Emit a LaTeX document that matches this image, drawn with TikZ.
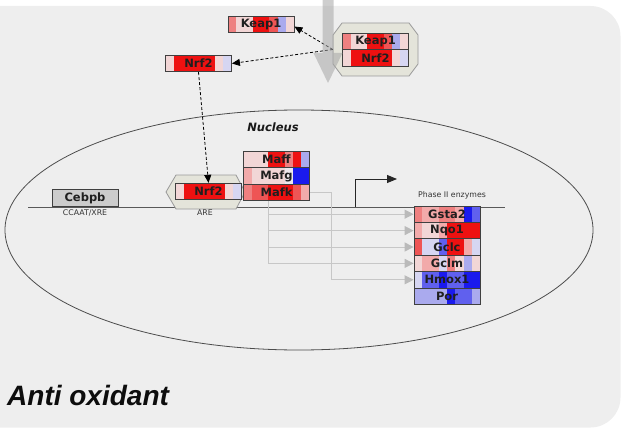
\documentclass[tikz,border=0pt]{standalone}
\usepackage{fontspec}
\setmainfont{DejaVu Sans}
\newfontfamily\titlefont{Liberation Sans}
\usetikzlibrary{calc,arrows.meta}
\definecolor{bgc}{HTML}{EEEEEE}
\definecolor{hexc}{HTML}{E4E4DA}
\definecolor{hP}{HTML}{F2D6D6}
\definecolor{hL}{HTML}{F2AAAA}
\definecolor{hS}{HTML}{EE8080}
\definecolor{hM}{HTML}{EE5555}
\definecolor{hR}{HTML}{EE1111}
\definecolor{hW}{HTML}{EEE8EE}
\definecolor{hV}{HTML}{D6D6F2}
\definecolor{hLB}{HTML}{AAAAEE}
\definecolor{hMB}{HTML}{6060EE}
\definecolor{hB}{HTML}{1A1AEE}
\tikzset{
  gene/.style={draw=black!75, line width=0.8pt, minimum width=66pt, minimum height=16.5pt,
    inner sep=0pt, font=\bfseries\fontsize{11.5}{12}\selectfont, text=black!88},
  heat/.style={path picture={
    \foreach \c [count=\i from 0] in {#1}{
      \pgfmathsetmacro\ha{\i/8}\pgfmathsetmacro\hb{(\i+1)/8}
      \fill[\c] ($(path picture bounding box.south west)!\ha!(path picture bounding box.south east)$)
        rectangle ($(path picture bounding box.north west)!\hb!(path picture bounding box.north east)$);}}},
  hexshape/.style={fill=hexc, draw=black!40, line width=0.8pt},
  smalltxt/.style={font=\fontsize{7.8}{9}\selectfont, text=black!80, inner sep=0pt},
  dasharrow/.style={draw=black, line width=0.8pt, dash pattern=on 3pt off 2pt,
    -{Triangle[length=8pt,width=7pt]}},
  grayarrow/.style={draw=black!22, line width=1pt,
    -{Triangle[length=9pt,width=9pt,color=black!27]}},
}
\begin{document}
\begin{tikzpicture}[x=1pt,y=-1pt]
\useasboundingbox (0,0) rectangle (621,428);
\fill[bgc, rounded corners=30pt] (-40,6) rectangle (620.5,427.5);

% nucleus
\draw[black!70, line width=0.8pt] (299,230) ellipse [x radius=294, y radius=120];
\node[font=\bfseries\itshape\fontsize{11.5}{13}\selectfont, text=black!90] (nuclab) at (273,127) {Nucleus};

% DNA line
\coordinate (dnaL) at (28,207);
\coordinate (dnaR) at (505,207);
\draw[black!65, line width=1pt] (dnaL) -- (dnaR);

% complex octagon
\fill[hexshape] (342,23) -- (409,23) -- (418,35) -- (418,64) -- (409,76) -- (342,76) -- (333,64) -- (333,35) -- cycle;
\node[inner sep=0pt, minimum width=85pt, minimum height=53pt] (cplx) at (375.5,49.5) {};

% ARE hexagon
\fill[hexshape] (176,175) -- (236,175) -- (245,192) -- (236,209) -- (176,209) -- (166,192) -- cycle;
\node[inner sep=0pt, minimum width=79pt, minimum height=34pt] (are) at (205.5,192) {};

% genes
\node[gene, heat={hS,hP,hP,hR,hR,hM,hLB,hP}] (keap1a) at (261,24.5) {Keap1};
\node[gene, heat={hS,hP,hP,hR,hR,hM,hLB,hP}] (keap1b) at (375.5,41.5) {Keap1};
\node[gene, heat={hP,hR,hR,hR,hR,hR,hP,hV}] (nrf2c) at (375.5,58) {Nrf2};
\node[gene, heat={hP,hR,hR,hR,hR,hR,hP,hV}] (nrf2a) at (198.5,63.5) {Nrf2};
\node[gene, heat={hP,hR,hR,hR,hR,hR,hP,hV}] (nrf2b) at (208.5,191.5) {Nrf2};
\node[gene, fill=black!20, minimum height=17.5pt] (cebpb) at (85,198) {Cebpb};
\node[gene, heat={hP,hP,hP,hR,hR,hS,hR,hLB}] (maff) at (276.5,159.5) {Maff};
\node[gene, heat={hL,hP,hP,hP,hP,hW,hB,hB}] (mafg) at (276.5,176) {Mafg};
\node[gene, heat={hS,hM,hM,hR,hR,hR,hM,hL}] (mafk) at (276.5,192.5) {Mafk};

\node[gene, heat={hS,hL,hL,hS,hS,hL,hB,hMB}] (gsta2) at (447,214.2) {Gsta2};
\node[gene, heat={hL,hP,hP,hL,hR,hR,hR,hR}] (nqo1) at (447,230.6) {Nqo1};
\node[gene, heat={hM,hV,hV,hMB,hR,hR,hL,hV}] (gclc) at (447,247) {Gclc};
\node[gene, heat={hP,hL,hL,hV,hS,hP,hLB,hP}] (gclm) at (447,263.4) {Gclm};
\node[gene, heat={hV,hMB,hMB,hB,hMB,hMB,hB,hB}] (hmox1) at (447,279.8) {Hmox1};
\node[gene, heat={hLB,hLB,hLB,hLB,hB,hMB,hMB,hLB}] (por) at (447,296.2) {Por};

% small labels
\node[smalltxt] (ccaat) at (85,213) {CCAAT/XRE};
\node[smalltxt] (arelab) at (205,213) {ARE};
\node[smalltxt] (phase) at (452,195) {Phase II enzymes};

% gray regulation arrows
\coordinate (br) at ([xshift=-8.5pt]mafk.south);
\draw[grayarrow] (br) |- (gsta2.west);
\draw[grayarrow] (br) |- (nqo1.west);
\draw[grayarrow] (br) |- (gclc.west);
\draw[grayarrow] (br) |- (gclm.west);
\draw[grayarrow] (mafk.east) -- ++(22,0) |- (hmox1.west);

% transcription start
\coordinate (tss) at (355,207);
\coordinate (tssE) at (397,179);
\draw[black!85, line width=1pt, -{Triangle[length=10pt,width=8pt]}] (tss) |- (tssE);

% dashed arrows
\draw[dasharrow] (cplx.west) -- ([yshift=-2pt]keap1a.east);
\draw[dasharrow] (cplx.west) -- (nrf2a.east);
\draw[dasharrow] (nrf2a.south) -- (nrf2b.north);

% big gray arrow
\fill[black!35, opacity=0.55] (322.5,0) -- (333.5,0) -- (333.5,53) -- (342.5,53) -- (328,83) -- (313.5,53) -- (322.5,53) -- cycle;

% title
\node[anchor=west, inner sep=0pt, font=\titlefont\bfseries\itshape\fontsize{28}{32}\selectfont, text=black!95] (title) at (7,395) {Anti oxidant};
\end{tikzpicture}
\end{document}
